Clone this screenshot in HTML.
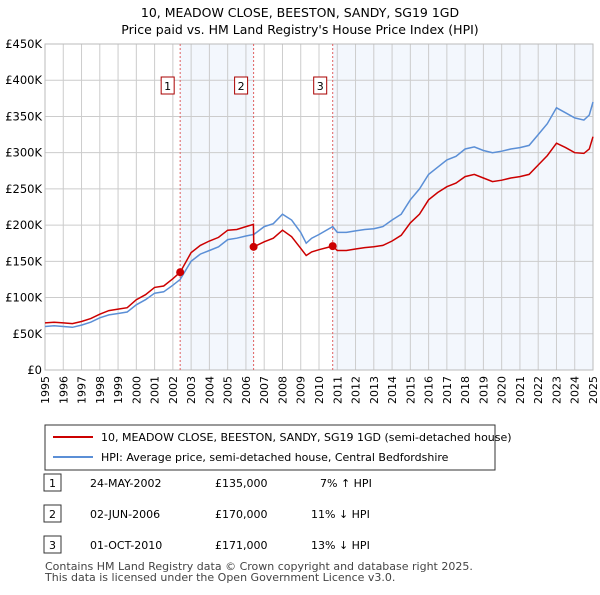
<!DOCTYPE html>
<html><head><meta charset="utf-8"><style>
body{margin:0;background:#fff;font-family:"Liberation Sans","DejaVu Sans",sans-serif;}
svg text{font-family:"DejaVu Sans","Liberation Sans",sans-serif;}
</style></head><body>
<svg id="c" width="600" height="590" viewBox="0 0 600 590" xmlns="http://www.w3.org/2000/svg">
<text x="300" y="17" text-anchor="middle" font-size="12.5">10, MEADOW CLOSE, BEESTON, SANDY, SG19 1GD</text>
<text x="300" y="34" text-anchor="middle" font-size="12.5">Price paid vs. HM Land Registry's House Price Index (HPI)</text>
<g id="plot"></g>
<g>
<rect x="45" y="425" width="450" height="45" fill="#fff" stroke="#333" stroke-width="1"/>
<line x1="53" y1="437" x2="93" y2="437" stroke="#cc0000" stroke-width="2"/>
<text x="101" y="441" font-size="11">10, MEADOW CLOSE, BEESTON, SANDY, SG19 1GD (semi-detached house)</text>
<line x1="53" y1="457" x2="93" y2="457" stroke="#5b8fd6" stroke-width="2"/>
<text x="101" y="461" font-size="11">HPI: Average price, semi-detached house, Central Bedfordshire</text>
</g>
<g font-size="11">
<rect x="44" y="474" width="17" height="17" fill="#fff" stroke="#333"/><text x="52.5" y="487" text-anchor="middle">1</text>
<text x="90" y="487">24-MAY-2002</text><text x="215" y="487">£135,000</text><text x="320" y="487">7% ↑ HPI</text>
<rect x="44" y="505" width="17" height="17" fill="#fff" stroke="#333"/><text x="52.5" y="518" text-anchor="middle">2</text>
<text x="90" y="518">02-JUN-2006</text><text x="215" y="518">£170,000</text><text x="311" y="518">11% ↓ HPI</text>
<rect x="44" y="536" width="17" height="17" fill="#fff" stroke="#333"/><text x="52.5" y="549" text-anchor="middle">3</text>
<text x="90" y="549">01-OCT-2010</text><text x="215" y="549">£171,000</text><text x="311" y="549">13% ↓ HPI</text>
</g>
<text x="45" y="570" font-size="11" fill="#444">Contains HM Land Registry data © Crown copyright and database right 2025.</text>
<text x="45" y="581" font-size="11" fill="#444">This data is licensed under the Open Government Licence v3.0.</text>
</svg>
<script>
const dates=[1995,1995.5,1996,1996.5,1997,1997.5,1998,1998.5,1999,1999.5,2000,2000.5,2001,2001.5,2002,2002.4,2003,2003.5,2004,2004.5,2005,2005.5,2006,2006.41,2006.43,2007,2007.5,2008,2008.5,2009,2009.3,2009.6,2010,2010.75,2011,2011.5,2012,2012.5,2013,2013.5,2014,2014.5,2015,2015.5,2016,2016.5,2017,2017.5,2018,2018.5,2019,2019.5,2020,2020.5,2021,2021.5,2022,2022.5,2023,2023.5,2024,2024.5,2024.8,2025];
const hpiValues=[60,61,60,59,62,66,72,76,78,80,90,97,106,108,117,125,150,160,165,170,180,182,185,187,187,198,202,215,207,190,175,182,187,198,190,190,192,194,195,198,207,215,235,250,270,280,290,295,305,308,303,300,302,305,307,310,325,340,362,355,348,345,352,370];
const priceValues=[65,66,65,64,67,71,77,82,84,86,97,104,114,116,126,135,162,172,178,183,193,194,198,201,170,177,182,193,184,168,158,163,166,171,165,165,167,169,170,172,178,186,203,215,235,245,253,258,267,270,265,260,262,265,267,270,283,296,313,307,300,299,305,322];
const saleDates=[2002.4,2006.42,2010.75];
const salePrices=[135,170,171];
const saleLabels=["1","2","3"];
const yTicks=[0,50,100,150,200,250,300,350,400,450];
const yTickLabels=["£0","£50K","£100K","£150K","£200K","£250K","£300K","£350K","£400K","£450K"];
const xYears=[1995,1996,1997,1998,1999,2000,2001,2002,2003,2004,2005,2006,2007,2008,2009,2010,2011,2012,2013,2014,2015,2016,2017,2018,2019,2020,2021,2022,2023,2024,2025];

const L=45,R=593,T=44,B=370;
const x=t=>L+(t-1995)/30*(R-L);
const y=v=>B-v/450*(B-T);
const NS="http://www.w3.org/2000/svg";
const g=document.getElementById('plot');
function mk(tag,attrs,parent){const e=document.createElementNS(NS,tag);for(const k in attrs)e.setAttribute(k,attrs[k]);(parent||g).appendChild(e);return e;}
// shading
const s1=mk('rect',{x:x(saleDates[0]),y:T,width:x(saleDates[1])-x(saleDates[0]),height:B-T,fill:'#eef3fc',opacity:0.7});


const s2=mk('rect',{x:x(saleDates[2]),y:T,width:R-x(saleDates[2]),height:B-T,fill:'#eef3fc',opacity:0.7});


// grid
xYears.forEach(yr=>{const l=mk('line',{x1:x(yr),x2:x(yr),y1:T,y2:B,stroke:'#cccccc','stroke-width':1});


const tx=mk('text',{x:0,y:0,'font-size':11,'text-anchor':'end',transform:`translate(${x(yr)+4},${B+6}) rotate(-90)`});


tx.textContent=yr;});
yTicks.forEach((v,i)=>{const l=mk('line',{x1:L,x2:R,y1:y(v),y2:y(v),stroke:'#cccccc','stroke-width':1});


const tx=mk('text',{x:L-3,y:y(v)+4,'font-size':11.5,'text-anchor':'end'});


tx.textContent=yTickLabels[i];});
const ax=mk('rect',{x:L,y:T,width:R-L,height:B-T,fill:'none',stroke:'#bbb'});


// sale vlines and labels
saleDates.forEach((d,i)=>{const l=mk('line',{x1:x(d),x2:x(d),y1:T,y2:B,stroke:'#e06060','stroke-width':1,'stroke-dasharray':'2,2'});


const r=mk('rect',{x:x(d)-19,y:77,width:13,height:17,fill:'#fff',stroke:'#aa0000'});


const t=mk('text',{x:x(d)-12.5,y:90,'font-size':11,'text-anchor':'middle'});


t.textContent=saleLabels[i];});
// lines
const pts=a=>a.map((v,i)=>x(dates[i]).toFixed(1)+','+y(v).toFixed(1)).join(' ');
const hl=mk('polyline',{points:pts(hpiValues),fill:'none',stroke:'#5b8fd6','stroke-width':1.5});


const pl=mk('polyline',{points:pts(priceValues),fill:'none',stroke:'#cc0000','stroke-width':1.5});


saleDates.forEach((d,i)=>{const c=mk('circle',{cx:x(d),cy:y(salePrices[i]),r:4,fill:'#cc0000'});

});
</script>
</body></html>
